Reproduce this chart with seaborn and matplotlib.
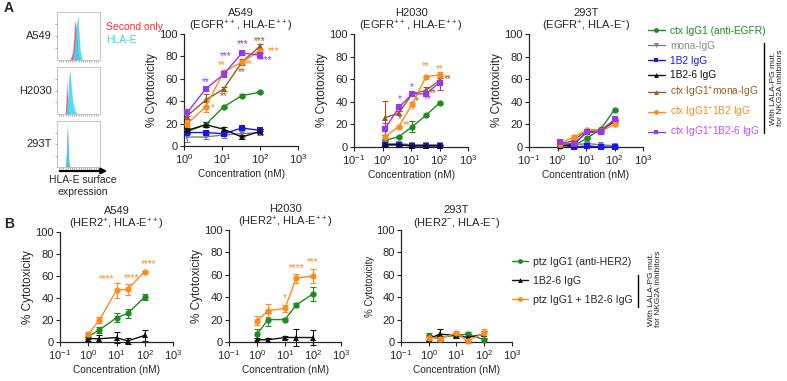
import numpy as np
import pandas as pd
import matplotlib.pyplot as plt
import seaborn as sns
from matplotlib.lines import Line2D
from matplotlib.patches import FancyArrowPatch
from matplotlib.ticker import NullLocator

sns.set_style('ticks')
plt.rcParams['font.family'] = ['Liberation Sans', 'DejaVu Sans']
plt.rcParams['mathtext.default'] = 'regular'

# ---- data ----
conc_a = [1.23, 3.7, 11.1, 33.3, 100]
conc_b = [1, 2.5, 10, 25, 100]

a_names = ['ctx IgG1 (anti-EGFR)', 'mona-IgG', '1B2 IgG', '1B2-6 IgG',
           'ctx IgG1$^{+}$mona-IgG', 'ctx IgG1$^{+}$1B2 IgG', 'ctx IgG1$^{+}$1B2-6 IgG']
a_colors = ['#1f8a1f', '#7f7f7f', '#1515f0', '#111111', '#9a5a1c', '#ff8a1e', '#9a35f0']
a_text_colors = ['#1f8a1f', '#8a8a8a', '#1515f0', '#111111', '#9a5a1c', '#ff8a1e', '#c050ff']
a_markers = ['o', 'v', 's', '^', '^', 'o', 's']

a549_egfr = [[13, 19, 35, 45, 48],
             [8, 8, 10, 11, 12],
             [12, 12, 11, 16, 14],
             [14, 19, 15, 8, 13],
             [27, 41, 51, 75, 89],
             [20, 35, 66, 75, 85],
             [30, 51, 64, 83, 81]]
a549_egfr_err = [[2, 2, 1, 1, 1],
                 [4, 2, 3, 3, 2],
                 [1, 1, 1, 1, 1],
                 [2, 2, 2, 2, 2],
                 [3, 5, 2, 3, 2],
                 [3, 5, 2, 2, 2],
                 [3, 2, 2, 2, 2]]

h2030_egfr = [[6, 9, 18, 28, 39],
              [3, 3, 2, 2, 2],
              [2, 2, 1, 1, 1],
              [2, 2, 1, 1, 1],
              [26, 30, 47, 50, 59],
              [9, 18, 38, 62, 64],
              [16, 35, 47, 47, 57]]
h2030_egfr_err = [[1, 1, 5, 1, 1],
                  [1, 1, 1, 1, 1],
                  [1, 1, 1, 1, 1],
                  [1, 1, 1, 1, 1],
                  [15, 2, 2, 3, 2],
                  [2, 1, 2, 1, 2],
                  [5, 3, 2, 2, 7]]

t293_egfr = [[1, 1, 8, 16, 33],
             [2, 2, 3, 2, 1],
             [2, 0, 1, 0, 0],
             [1, 2, 14, 14, 23],
             [2, 6, 15, 15, 24],
             [3, 9, 15, 14, 20],
             [4, 3, 13, 13, 25]]
t293_egfr_err = [[1, 1, 1, 1, 1],
                 [1, 1, 1, 1, 1],
                 [1, 1, 1, 1, 1],
                 [1, 1, 1, 1, 1],
                 [1, 1, 1, 1, 1],
                 [1, 2, 1, 1, 1],
                 [3, 1, 1, 1, 1]]

b_names = ['ptz IgG1 (anti-HER2)', '1B2-6 IgG', 'ptz IgG1 + 1B2-6 IgG']
b_colors = ['#1f8a1f', '#111111', '#ff8a1e']
b_markers = ['o', '^', 'o']

a549_her2 = [[5, 11, 22, 26, 41],
             [3, 3, 4, 1, 6],
             [7, 20, 47, 48, 64]]
a549_her2_err = [[2, 3, 4, 4, 3],
                 [2, 3, 5, 3, 5],
                 [2, 3, 7, 5, 1]]
h2030_her2 = [[7, 20, 20, 33, 43],
              [2, 2, 4, 4, 4],
              [19, 28, 30, 57, 59]]
h2030_her2_err = [[5, 6, 1, 2, 6],
                  [2, 2, 1, 8, 7],
                  [4, 6, 3, 4, 6]]
t293_her2 = [[5, 4, 6, 7, 2],
             [3, 7, 6, 4, 7],
             [4, 3, 8, 1, 8]]
t293_her2_err = [[3, 3, 2, 2, 2],
                 [3, 5, 2, 3, 3],
                 [2, 2, 2, 2, 4]]

# flow histograms (fluorescence position, relative count)
hist_a549_x = [3.0, 3.6, 3.9, 4.1, 4.3, 4.6, 4.9, 5.3]
hist_a549_red = [0, 0.15, 0.45, 0.75, 0.82, 0.5, 0.15, 0]
hist_a549_cyan_x = [3.6, 4.1, 4.4, 4.7, 4.9, 5.1, 5.4, 5.9]
hist_a549_cyan = [0, 0.3, 0.6, 0.85, 0.92, 0.6, 0.2, 0]
hist_h2030_x = [1.9, 2.1, 2.25, 2.4, 2.6, 2.8]
hist_h2030_red = [0, 0.3, 0.72, 0.4, 0.1, 0]
hist_h2030_cyan_x = [2.1, 2.5, 2.8, 3.0, 3.3, 3.7, 4.2, 4.8]
hist_h2030_cyan = [0, 0.4, 0.85, 0.93, 0.6, 0.25, 0.06, 0]
hist_293_x = [2.0, 2.2, 2.4, 2.55, 2.7, 2.9]
hist_293_red = [0, 0.3, 0.85, 0.5, 0.1, 0]
hist_293_cyan_x = [2.0, 2.2, 2.45, 2.6, 2.8, 3.1]
hist_293_cyan = [0, 0.35, 0.95, 0.55, 0.1, 0]

W, H = 787, 381
fig = plt.figure(figsize=(W / 100, H / 100), dpi=100)


def add_ax(l, t, r, b):
    return fig.add_axes([l / W, 1 - b / H, (r - l) / W, (b - t) / H])


def draw_panel(ax, conc, vals, errs, colors, markers, xmin, title, ylsize=8.5):
    for v, e, c, m in zip(vals, errs, colors, markers):
        ax.errorbar(conc, v, yerr=e, fmt='none', ecolor=c, elinewidth=0.8,
                    capsize=2, capthick=0.8, clip_on=False, zorder=2)
        sns.lineplot(x=conc, y=v, ax=ax, color=c, marker=m, markersize=4.5,
                     markeredgewidth=0, linewidth=1, clip_on=False, zorder=3)
    ax.set_xscale('log')
    ax.set_xlim(xmin, 1000)
    ax.set_ylim(0, 100)
    ax.set_xticks([t for t in [0.1, 1, 10, 100, 1000] if t >= xmin])
    ax.xaxis.set_minor_locator(NullLocator())
    ax.set_yticks([0, 20, 40, 60, 80, 100])
    ax.tick_params(labelsize=8, length=3, width=0.8, pad=1.5)
    for s in ['left', 'bottom']:
        ax.spines[s].set_linewidth(0.9)
    sns.despine(ax=ax)
    ax.set_title(title, fontsize=8, pad=2, linespacing=1.1)
    ax.set_ylabel('% Cytotoxicity', fontsize=ylsize, labelpad=1)
    ax.set_xlabel('Concentration (nM)', fontsize=7.3, labelpad=2)


def add_stars(ax, stars):
    for x, y, txt, c in stars:
        ax.text(x, y, txt, color=c, fontsize=7, ha='center', va='center', zorder=5)


# ---- panel A: histograms ----
hist_sets = [(12, 60, 'A549', hist_a549_x, hist_a549_red, hist_a549_cyan_x, hist_a549_cyan),
             (67, 114, 'H2030', hist_h2030_x, hist_h2030_red, hist_h2030_cyan_x, hist_h2030_cyan),
             (121, 167, '293T', hist_293_x, hist_293_red, hist_293_cyan_x, hist_293_cyan)]
for top, bot, lab, rx, ry, cx, cy in hist_sets:
    hax = add_ax(57, top, 100, bot)
    hax.fill_between(rx, ry, color='#ff4050', alpha=0.85, lw=0)
    hax.fill_between(cx, cy, color='#35d8f5', alpha=0.85, lw=0)
    hax.set_xlim(0, 10)
    hax.set_ylim(0, 1)
    hax.set_xticks([1, 3.5, 6, 8.5])
    hax.set_xticks(np.arange(0.5, 10, 0.5), minor=True)
    hax.set_yticks([0.25, 0.5, 0.75])
    hax.tick_params(which='both', length=1.5, width=0.5, colors='#888888',
                    labelbottom=False, labelleft=False)
    for s in hax.spines.values():
        s.set_color('#bbbbbb')
        s.set_linewidth(0.6)
    fig.text(52 / W, 1 - (top + bot) / 2 / H, lab, ha='right', va='center', fontsize=8)

fig.text(106 / W, 1 - 27 / H, 'Second only', color='#ff2a2a', fontsize=7.5, va='center')
fig.text(106 / W, 1 - 40 / H, 'HLA-E', color='#35d8f5', fontsize=7.5, va='center')
fig.add_artist(FancyArrowPatch((57 / W, 1 - 171 / H), (110 / W, 1 - 171 / H),
                               transform=fig.transFigure, arrowstyle='-|>',
                               mutation_scale=8, lw=1.6, color='black'))
fig.text(83 / W, 1 - 186 / H, 'HLA-E surface\nexpression', ha='center', va='center',
         fontsize=7.5, linespacing=1.15)
fig.text(4 / W, 1 - 8 / H, 'A', fontsize=10, fontweight='bold', va='center')
fig.text(4 / W, 1 - 224 / H, 'B', fontsize=10, fontweight='bold', va='center')

# ---- panel A: cytotoxicity ----
ax1 = add_ax(184, 34, 298, 146)
draw_panel(ax1, conc_a, a549_egfr, a549_egfr_err, a_colors, a_markers, 1,
           'A549\n(EGFR$^{++}$, HLA-E$^{++}$)')
add_stars(ax1, [(3.8, 57, '**', a_colors[6]), (12.5, 80, '***', a_colors[6]),
                (10, 72, '**', a_colors[5]), (35, 91, '***', a_colors[6]),
                (135, 77, '****', a_colors[6]), (96, 94, '***', a_colors[4]),
                (230, 85, '***', a_colors[5]), (51, 73, '**', a_colors[5]),
                (34, 66, '**', a_colors[4]), (11, 45, '**', a_colors[4]),
                (5.7, 34, '*', a_colors[5])])

ax2 = add_ax(354, 34, 468, 147)
draw_panel(ax2, conc_a, h2030_egfr, h2030_egfr_err, a_colors, a_markers, 0.1,
           'H2030\n(EGFR$^{++}$, HLA-E$^{++}$)')
add_stars(ax2, [(4.1, 42, '*', a_colors[6]), (4.1, 25, '*', a_colors[4]),
                (7.3, 19, '**', a_colors[5]), (10.7, 53, '*', a_colors[6]),
                (16, 41, '*', a_colors[4]), (11.3, 33, '*', a_colors[5]),
                (32, 72, '**', a_colors[5]), (59, 48, '**', a_colors[4]),
                (38, 42, '**', a_colors[6]), (100, 69, '**', a_colors[5]),
                (200, 60, '**', a_colors[4])])

ax3 = add_ax(529, 34, 643, 147)
draw_panel(ax3, conc_a, t293_egfr, t293_egfr_err, a_colors, a_markers, 0.1,
           '293T\n(EGFR$^{+}$, HLA-E$^{-}$)')

a_handles = [Line2D([], [], color=c, marker=m, markersize=3.5, markeredgewidth=0, lw=1)
             for c, m in zip(a_colors, a_markers)]
fig.legend(a_handles, a_names, loc='upper left', bbox_to_anchor=(648 / W, 1 - 26 / H),
           frameon=False, fontsize=7.3, handlelength=1.65, handletextpad=0.5,
           labelspacing=0.47, borderpad=0, borderaxespad=0, labelcolor=a_text_colors)
fig.add_artist(Line2D([764 / W, 764 / W], [1 - 43 / H, 1 - 133 / H], color='black', lw=1))
fig.text(777 / W, 1 - 88 / H, 'With LALA-PG mut.\nfor NKG2A inhibitors', rotation=90,
         ha='center', va='center', fontsize=6, linespacing=1.1)

# ---- panel B ----
bx1 = add_ax(60, 232, 173, 342)
draw_panel(bx1, conc_b, a549_her2, a549_her2_err, b_colors, b_markers, 0.1,
           'A549\n(HER2$^{+}$, HLA-E$^{++}$)')
add_stars(bx1, [(4.4, 57, '****', b_colors[2]), (34, 58, '****', b_colors[2]),
                (135, 71, '****', b_colors[2])])

bx2 = add_ax(229, 230, 341, 342)
draw_panel(bx2, conc_b, h2030_her2, h2030_her2_err, b_colors, b_markers, 0.1,
           'H2030\n(HER2$^{+}$, HLA-E$^{++}$)')
add_stars(bx2, [(10, 39, '*', b_colors[2]), (25, 66, '****', b_colors[2]),
                (100, 71, '***', b_colors[2])])

bx3 = add_ax(401, 230, 512, 342)
draw_panel(bx3, conc_b, t293_her2, t293_her2_err, b_colors, b_markers, 0.1,
           '293T\n(HER2$^{-}$, HLA-E$^{-}$)', ylsize=7)

b_handles = [Line2D([], [], color=c, marker=m, markersize=3.5, markeredgewidth=0, lw=1)
             for c, m in zip(b_colors, b_markers)]
fig.legend(b_handles, b_names, loc='upper left', bbox_to_anchor=(512 / W, 1 - 257 / H),
           frameon=False, fontsize=7.6, handlelength=1.5, handletextpad=0.45,
           labelspacing=0.85, borderpad=0, borderaxespad=0)
fig.add_artist(Line2D([638 / W, 638 / W], [1 - 275 / H, 1 - 307 / H], color='black', lw=1))
fig.text(655 / W, 1 - 289 / H, 'With LALA-PG mut.\nfor NKG2A inhibitors', rotation=90,
         ha='center', va='center', fontsize=6, linespacing=1.1)

fig.savefig('out.png', dpi=100)
